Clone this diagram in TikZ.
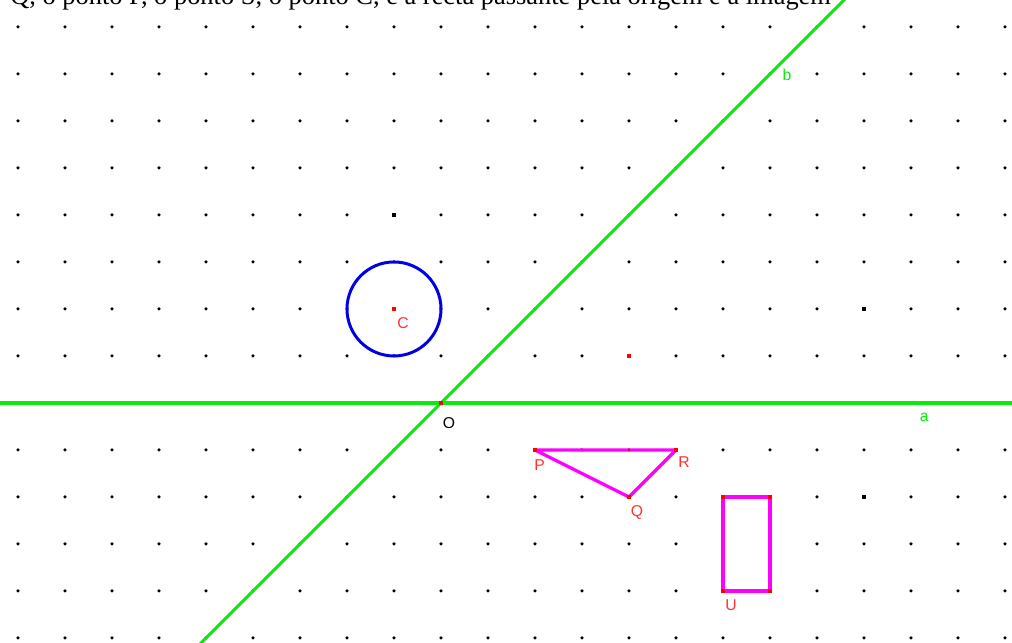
\documentclass[tikz,border=0pt]{standalone}
\usepackage{fontspec}
\setmainfont{Liberation Serif}
\setsansfont{Liberation Sans}
\usetikzlibrary{positioning}
\definecolor{lngreen}{RGB}{10,235,10}
\definecolor{crblue}{RGB}{0,0,230}
\definecolor{polymag}{RGB}{255,0,255}
\definecolor{lblred}{RGB}{255,50,50}

\begin{document}
\begin{tikzpicture}[x=1cm,y=1cm,
		gridpt/.style={circle,fill=black,inner sep=0pt,minimum size=0.75mm},
		bigpt/.style={rectangle,fill=black,inner sep=0pt,minimum size=0.9mm},
		redpt/.style={rectangle,fill=red,inner sep=0pt,minimum size=1mm},
		smallred/.style={rectangle,fill=red,inner sep=0pt,minimum size=0.6mm},
		lbl/.style={text=lblred,font=\sffamily\fontsize{9.5}{10}\selectfont,inner sep=0pt},
		lnlbl/.style={text=lngreen,font=\sffamily\fontsize{9.5}{10}\selectfont,inner sep=0pt},
		axis/.style={draw=lngreen,line width=1.9pt},
		poly/.style={draw=polymag,line width=2pt,line join=round}]
		\clip (-9.383,-5.106) rectangle (12.149,8.574);
		\fill[white] (-9.383,-5.106) rectangle (12.149,8.574);
		
		% grid of dots
		\foreach \i in {-9,...,12}
			\foreach \j in {-5,...,8}
				\node[gridpt] (d\i\j) at (\i,\j) {};
		\node[bigpt] (k1) at (-1,4) {};
		\node[bigpt] (k2) at (9,2) {};
		\node[bigpt] (k3) at (9,-2) {};
		
		% text line cut by the border
		\node[anchor=base west,inner sep=0pt,font=\fontsize{16}{18}\selectfont] (caption) at (-9.17,8.468)
			{Q, o ponto P, o ponto S, o ponto C, e a recta passante pela origem e a imagem};
		
		% lines a and b
		\coordinate (aL) at (-9.6,0);
		\coordinate (aR) at (12.4,0);
		\coordinate (bL) at (-5.3,-5.3);
		\coordinate (bR) at (8.8,8.8);
		\draw[axis] (aL) -- (aR);
		\draw[axis] (bL) -- (bR);
		\node[lnlbl] (alabel) at (10.28,-0.30) {a};
		\node[lnlbl] (blabel) at (7.36,6.98) {b};
		
		% circle
		\node[redpt] (C) at (-1,2) {};
		\draw[crblue,line width=1.8pt] (C.center) circle (1.0);
		\node[lbl] (Clbl) at ([shift={(0.19,-0.30)}]C) {C};
		
		\node[redpt] (O) at (0,0) {};
		\node[inner sep=0pt,font=\sffamily\fontsize{9.5}{10}\selectfont] (Olbl) at ([shift={(0.17,-0.43)}]O) {O};
		\node[redpt,minimum size=0.8mm] (S) at (4,1) {};
		
		% triangle
		\node[redpt] (P) at (2,-1) {};
		\node[redpt] (R) at (5,-1) {};
		\node[redpt] (Q) at (4,-2) {};
		\draw[poly] (P.center) -- (Q.center) -- (R.center) -- cycle;
		\node[smallred] (M) at (4,-1) {};
		\node[redpt] at (P) {};
		\node[redpt] at (Q) {};
		\node[redpt] at (R) {};
		\node[lbl] (Plbl) at ([shift={(0.10,-0.32)}]P) {P};
		\node[lbl] (Rlbl) at ([shift={(0.17,-0.26)}]R) {R};
		\node[lbl] (Qlbl) at ([shift={(0.17,-0.32)}]Q) {Q};
		
		% rectangle
		\coordinate (r1) at (6,-2);
		\coordinate (r2) at (7,-2);
		\coordinate (r3) at (7,-4);
		\coordinate (U) at (6,-4);
		\draw[poly] (r1) -- (r2) -- (r3) -- (U) -- cycle;
		\foreach \c in {r1,r2,r3,U}
			\node[redpt] at (\c) {};
		\node[lbl] (Ulbl) at ([shift={(0.17,-0.30)}]U) {U};
\end{tikzpicture}
\end{document}
